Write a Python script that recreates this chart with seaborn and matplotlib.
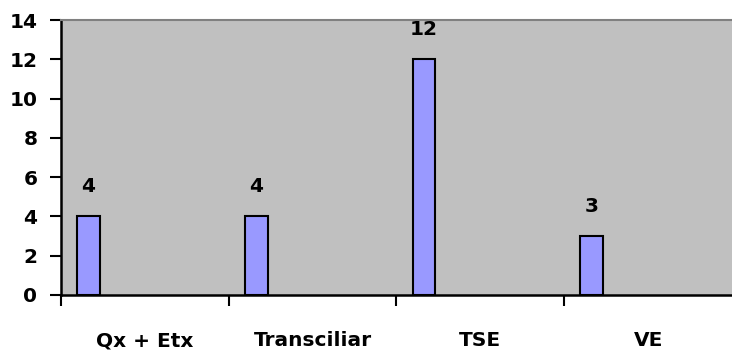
import matplotlib
matplotlib.use("Agg")
import matplotlib.pyplot as plt
import seaborn as sns
import pandas as pd
import numpy as np

categories = ["Qx + Etx", "Transciliar", "TSE", "VE"]
values = [4, 4, 12, 3]
y_ticks = [0, 2, 4, 6, 8, 10, 12, 14]

sns.set_theme(style="white")
plt.rcParams["font.family"] = ["DejaVu Sans"]
plt.rcParams["font.weight"] = "bold"
plt.rcParams["text.color"] = "black"
FS = 14.5

fig = plt.figure(figsize=(7.32, 3.54), dpi=100)
# the plot area runs past the right edge of the figure
ax = fig.add_axes([0.0833, 0.1667, 0.9210, 0.7768])
ax.set_facecolor("#C0C0C0")

# each category occupies one unit slot; the bar sits near the left of its slot
bar_offset = 0.164
df = pd.DataFrame({"pos": np.arange(len(categories)) + bar_offset,
                   "value": values})
sns.barplot(data=df, x="pos", y="value", native_scale=True, width=0.137,
            color="#9999FF", saturation=1, edgecolor="black", linewidth=1.5,
            ax=ax)

for p, v in zip(df["pos"], df["value"]):
    ax.annotate(f"{v}", xy=(p, v), xytext=(0, 21.6), textcoords="offset points",
                ha="center", va="center", fontsize=FS, fontweight="bold",
                color="black")

ax.set_xlim(0, len(categories) * 0.9210 / 0.9167)
ax.set_ylim(0, 14)
ax.set_yticks(y_ticks)
ax.set_yticklabels([str(t) for t in y_ticks], fontsize=FS, fontweight="bold")
ax.set_xticks(np.arange(len(categories)))
ax.set_xticklabels([])
ax.set_xticks(np.arange(len(categories)) + 0.5, minor=True)
ax.set_xticklabels(categories, minor=True, fontsize=FS, fontweight="bold")
ax.tick_params(axis="x", which="major", direction="out", length=8, width=1.5,
               color="black", bottom=True)
ax.tick_params(axis="x", which="minor", length=0, pad=26, labelcolor="black")
ax.tick_params(axis="y", direction="out", length=8, width=1.5, color="black",
               left=True, pad=9, labelcolor="black")
ax.set_xlabel("")
ax.set_ylabel("")

for side in ("left", "bottom"):
    ax.spines[side].set_color("black")
    ax.spines[side].set_linewidth(1.8)
ax.spines["top"].set_color("#808080")
ax.spines["top"].set_linewidth(1.5)
ax.spines["right"].set_visible(False)

fig.savefig("out.png", dpi=100, facecolor="white")
